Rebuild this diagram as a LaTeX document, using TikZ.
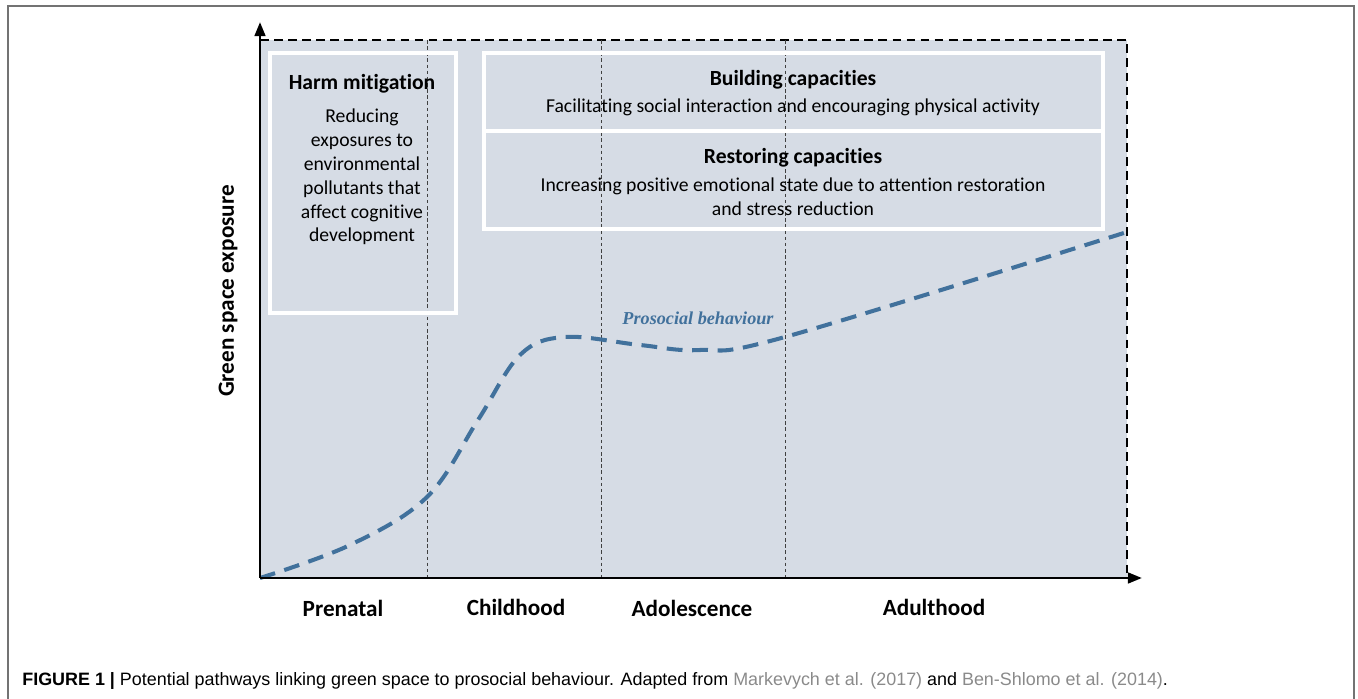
\documentclass[tikz,border=0pt]{standalone}
\usepackage{fontspec}
\setmainfont{Carlito}[Ligatures=NoCommon]
\newfontfamily\capfont{Liberation Sans}
\newfontfamily\curvefont{Liberation Serif}
\usetikzlibrary{arrows.meta,positioning}
\definecolor{plotbg}{HTML}{D6DCE5}
\definecolor{curveblue}{HTML}{41719C}
\definecolor{citegray}{HTML}{8A8A8A}
\tikzset{
  boxtext/.style={font=\fontsize{11.2}{13.6}\selectfont, align=center, inner sep=0pt},
  boxtitle/.style={font=\fontsize{12.3}{14}\selectfont\bfseries, inner sep=0pt},
  stagelabel/.style={font=\fontsize{13.2}{15}\selectfont\bfseries, inner sep=0pt},
  whitebox/.style={draw=white, line width=2.3pt},
  stageline/.style={draw=black!75, line width=0.5pt, dash pattern=on 2pt off 1.5pt}
}
\begin{document}
\begin{tikzpicture}[x=0.02cm, y=-0.02cm]
  \useasboundingbox (0,0) rectangle (1358,699);
  % frame of the figure
  \draw [black!55, line width=1.2pt] (8,699) -- (8,6) -- (1354,6) -- (1354,699);
  % plot area
  \fill [plotbg] (260,40) rectangle (1127,578);
  \draw [line width=1.1pt, dash pattern=on 5pt off 3pt] (260,40) -- (1127,40) -- (1127,578);
  \foreach \x in {427, 601, 785}
    \draw [stageline] (\x,40) -- (\x,578);
  % boxes
  \draw [whitebox] (270,53) rectangle (456,313);
  \draw [whitebox] (484,53) rectangle (1103,131);
  \draw [whitebox] (484,131) rectangle (1103,229);
  \node [boxtitle] (harm) at (362,84) {Harm mitigation};
  \node [boxtext] (harmtext) at (362,177) {Reducing\\exposures to\\environmental\\pollutants that\\affect cognitive\\development};
  \node [boxtitle] (build) at (793,80) {Building capacities};
  \node [boxtext] (buildtext) at (793,107) {Facilitating social interaction and encouraging physical activity};
  \node [boxtitle] (restore) at (793,158) {Restoring capacities};
  \node [boxtext] (restoretext) at (793,197) {Increasing positive emotional state due to attention restoration\\and stress reduction};
  % curve
  \draw [curveblue, line width=2.3pt, dash pattern=on 9pt off 5.5pt]
    plot [smooth, tension=0.6] coordinates {(260,578) (350,545) (427,497) (478,420) (520,355) (565,337) (640,345) (700,350) (785,337) (1127,232)};
  \node [curveblue, font=\curvefont\fontsize{10.35}{12}\selectfont\bfseries\itshape, inner sep=0pt] (prosocial) at (698,318) {Prosocial behaviour};
  % axes
  \coordinate (origin) at (260,578);
  \coordinate (ytip) at (260,22);
  \coordinate (xtip) at (1142,578);
  \draw [-{Triangle[length=8pt,width=6pt]}, line width=1.6pt] (origin) -- (ytip);
  \draw [-{Triangle[length=8pt,width=6pt]}, line width=1.6pt] (origin) -- (xtip);
  \node [stagelabel, rotate=90] (yaxis) at (228,291) {Green space exposure};
  \node [stagelabel] (prenatal) at (343,608) {Prenatal};
  \node [stagelabel] (childhood) at (516,607) {Childhood};
  \node [stagelabel] (adolescence) at (692,608) {Adolescence};
  \node [stagelabel] (adulthood) at (934,607) {Adulthood};
  % caption
  \node [anchor=west, inner sep=0pt, font=\capfont\fontsize{10.2}{12}\selectfont] (caption) at (22,681)
    {\textbf{FIGURE 1 |} Potential pathways linking green space to prosocial behaviour. Adapted from \textcolor{citegray}{Markevych et al. (2017)} and \textcolor{citegray}{Ben-Shlomo et al. (2014)}.};
\end{tikzpicture}
\end{document}
